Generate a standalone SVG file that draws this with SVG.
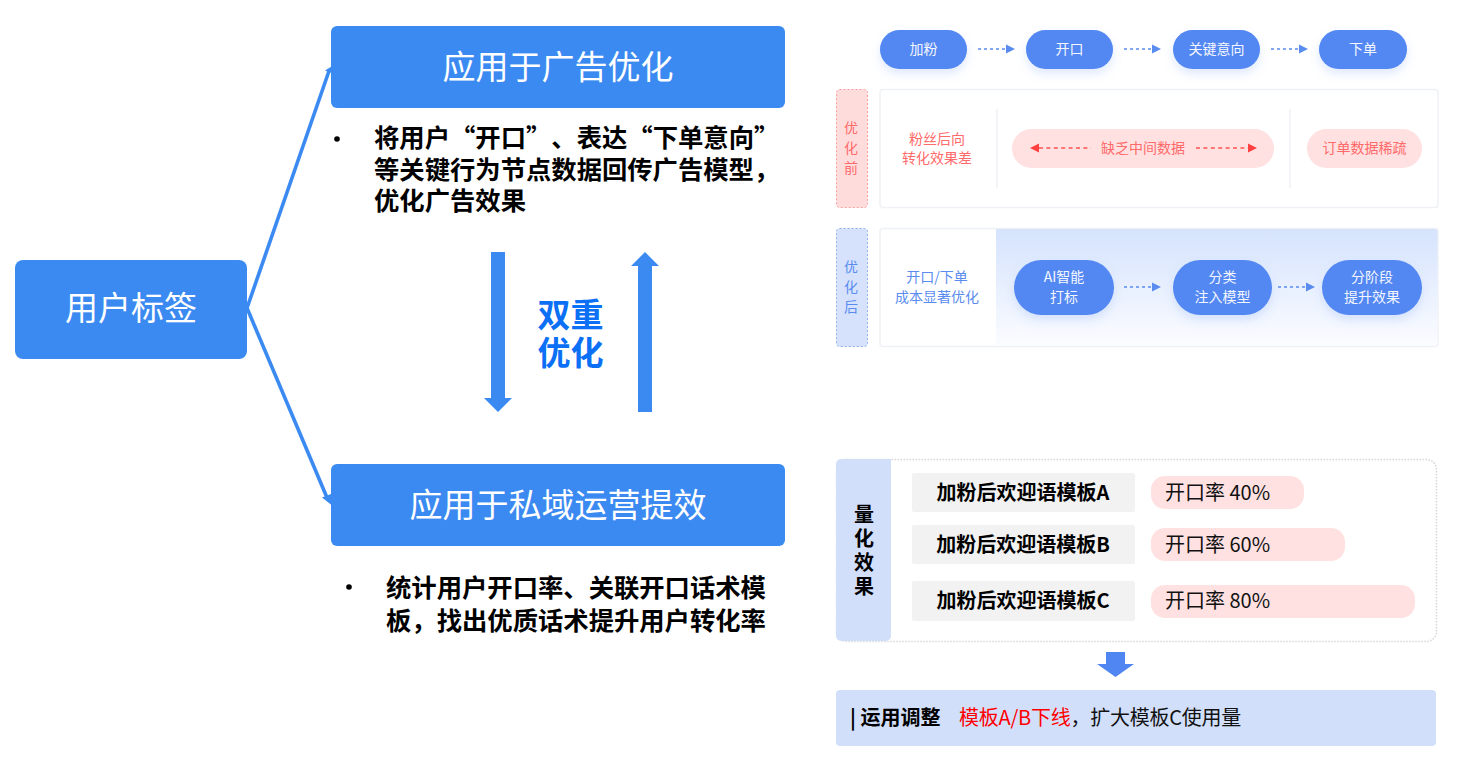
<svg xmlns="http://www.w3.org/2000/svg" width="1466" height="763" viewBox="0 0 1466 763">
<style>
text{font-family:"Noto Sans CJK SC","Liberation Sans",sans-serif}
.m{text-anchor:middle}
.blue{fill:#3b8af2}
.t{fill:#fff;font-size:33px;text-anchor:middle}
.b{fill:#000;font-size:25.33px;font-weight:700}
.p{fill:#5287f2;filter:url(#sh)}
.pt{fill:#f4f7ff;font-size:14px;text-anchor:middle}
.r{fill:#ff6a6a;font-size:14px;text-anchor:middle}
.bt{fill:#5a8cf0;font-size:14px;text-anchor:middle}
.vt{writing-mode:vertical-rl;letter-spacing:6px}
.pink{fill:#ffe1e1}
.panel{fill:#fff;stroke:#eff1f5;stroke-width:1.5}
.dashb{stroke:#5a8cf0;stroke-width:1.6;stroke-dasharray:3 3;fill:none}
.dashr{stroke:#ff5050;stroke-width:1.6;stroke-dasharray:4 3.4;fill:none}
.hb{fill:#5a8cf0}.hr{fill:#ff4040}
.g{fill:#f2f2f2}
.k{fill:#000;font-size:20px;font-weight:700;text-anchor:middle}
.v{fill:#111;font-size:20px}
</style>
<defs>
<filter id="sh" x="-20%" y="-30%" width="140%" height="170%"><feDropShadow dx="0" dy="5" stdDeviation="5" flood-color="#5287f2" flood-opacity=".18"/></filter>
<linearGradient id="fade" x1="0" y1="0" x2="0" y2="1"><stop offset="0" stop-color="#d5e3fd"/><stop offset="1" stop-color="#fbfcff"/></linearGradient>
</defs>
<rect width="1466" height="763" fill="#fff"/>

<g id="node-user-tag"><rect x="15" y="260" width="232" height="99" rx="8" class="blue"/><text x="131" y="320" class="t">用户标签</text></g>
<g id="node-ad"><rect x="331" y="26" width="454" height="82" rx="6" class="blue"/><text x="558" y="79" class="t">应用于广告优化</text></g>
<g id="node-ad-text">
<circle cx="337" cy="139" r="2.800"/>
<text class="b" y="147"><tspan x="374 399.300 424.700 450 475.300 500.700 526 551.300 576.700 602 627.300 652.700 678 703.300 728.700 754">将用户“开口”、表达“下单意向”</tspan><tspan x="374" y="179">等关键行为节点数据回传广告模型，</tspan><tspan x="374" y="210">优化广告效果</tspan></text>
</g>
<g id="node-double"><text x="570.500" y="327" font-size="33" font-weight="700" fill="#0b70f5" class="m">双重<tspan x="570.500" dy="38">优化</tspan></text></g>
<g id="node-private"><rect x="331" y="464" width="454" height="82" rx="6" class="blue"/><text x="558" y="517" class="t">应用于私域运营提效</text></g>
<g id="node-private-text">
<circle cx="349" cy="587" r="2.800"/>
<text x="386" y="597" class="b">统计用户开口率、关联开口话术模<tspan x="386" y="630">板，找出优质话术提升用户转化率</tspan></text>
</g>

<g id="node-step1"><rect x="880" y="30" width="87" height="39" rx="19.500" class="p"/><text x="923.500" y="54" class="pt">加粉</text></g>
<g id="node-step2"><rect x="1026" y="30" width="87" height="39" rx="19.500" class="p"/><text x="1069.500" y="54" class="pt">开口</text></g>
<g id="node-step3"><rect x="1173" y="30" width="87" height="39" rx="19.500" class="p"/><text x="1216.500" y="54" class="pt">关键意向</text></g>
<g id="node-step4"><rect x="1319" y="30" width="88" height="39" rx="19.500" class="p"/><text x="1363" y="54" class="pt">下单</text></g>

<g id="node-before-label"><rect x="836.500" y="89.500" width="31" height="118" rx="3" fill="#ffdcdc" stroke="#ff9c9c" stroke-dasharray="2 2"/>
<text x="851" y="151" class="r vt">优化前</text></g>
<g id="node-before">
<rect x="880" y="89.500" width="558" height="118" rx="3" class="panel"/>
<path d="M997 109V188M1290 109V188" stroke="#eff1f5" stroke-width="1.500"/>
<text x="937" y="144" class="r">粉丝后向<tspan x="937" dy="19">转化效果差</tspan></text>
<rect x="1012" y="129" width="262" height="39" rx="19.500" class="pink"/>
<text x="1143" y="153" class="r">缺乏中间数据</text>
<path d="M1039 148H1091M1196 148H1248" class="dashr"/>
<path d="M1039 143.500L1030 148L1039 152.500ZM1248 143.500L1257 148L1248 152.500Z" class="hr"/>
<rect x="1307" y="129" width="115" height="39" rx="19.500" class="pink"/>
<text x="1364.500" y="153" class="r">订单数据稀疏</text>
</g>

<g id="node-after-label"><rect x="836.500" y="228.500" width="31" height="118" rx="3" fill="#d6e2fb" stroke="#8fb0f2" stroke-dasharray="2 2"/>
<text x="851" y="290" class="bt vt">优化后</text></g>
<g id="node-after">
<rect x="880" y="228.500" width="558" height="118" rx="3" class="panel"/>
<path d="M996 229H1435a2.500 2.500 0 0 1 2.500 2.500V343a2.500 2.500 0 0 1-2.500 2.500H996Z" fill="url(#fade)"/>
<text x="937" y="282" class="bt">开口/下单<tspan x="937" dy="20">成本显著优化</tspan></text>
<rect x="1014" y="260" width="100" height="55" rx="27.500" class="p"/><text x="1064" y="282" class="pt">AI智能<tspan x="1064" dy="20">打标</tspan></text>
<rect x="1173" y="260" width="99" height="55" rx="27.500" class="p"/><text x="1222.500" y="282" class="pt">分类<tspan x="1222.500" dy="20">注入模型</tspan></text>
<rect x="1322" y="260" width="100" height="55" rx="27.500" class="p"/><text x="1372" y="282" class="pt">分阶段<tspan x="1372" dy="20">提升效果</tspan></text>
</g>

<g id="node-effect">
<rect x="836.500" y="459.500" width="600" height="182" rx="10" fill="#fff" stroke="#d6d6d6" stroke-width="1.500" stroke-dasharray="1.500 1.500"/>
<path d="M841 459H891V636a5 5 0 0 1-5 5H841a5 5 0 0 1-5-5V464a5 5 0 0 1 5-5Z" fill="#d2dffb"/>
<text x="864" y="552" class="k vt" style="letter-spacing:4px">量化效果</text>
</g>
<g id="node-row-a"><rect x="912" y="473" width="223" height="39" rx="2" class="g"/><text x="1023" y="500" class="k">加粉后欢迎语模板A</text><rect x="1151" y="476" width="153" height="33" rx="14" class="pink"/><text x="1165" y="500" class="v">开口率 40%</text></g>
<g id="node-row-b"><rect x="912" y="525" width="223" height="39" rx="2" class="g"/><text x="1023" y="552" class="k">加粉后欢迎语模板B</text><rect x="1151" y="528" width="194" height="33" rx="14" class="pink"/><text x="1165" y="552" class="v">开口率 60%</text></g>
<g id="node-row-c"><rect x="912" y="581" width="223" height="40" rx="2" class="g"/><text x="1023" y="608" class="k">加粉后欢迎语模板C</text><rect x="1151" y="585" width="264" height="33" rx="14" class="pink"/><text x="1165" y="608" class="v">开口率 80%</text></g>
<g id="node-adjust"><rect x="836" y="690" width="600" height="56" rx="4" fill="#d2dffb"/>
<text x="850" y="725" font-size="20" font-weight="700" fill="#000">| 运用调整</text>
<text x="959" y="725" font-size="20" fill="#f00" letter-spacing="-.25">模板A/B下线<tspan fill="#111">，扩大模板C使用量</tspan></text></g>

<g id="connectors">
<path d="M247 308L329 71" stroke="#3b8af2" stroke-width="3.600" fill="none"/>
<path d="M331.500 66.500L325 70.500L333 73.500Z" class="blue"/>
<path d="M247 308L328 500" stroke="#3b8af2" stroke-width="3.600" fill="none"/>
<path d="M331.500 505L322 497.500L331 494Z" class="blue"/>
<path d="M491 252H505V398H512L498 412L484 398H491Z" class="blue"/>
<path d="M638 412H652V266H659L645 252L631 266H638Z" class="blue"/>
<path d="M978 49H1006" class="dashb"/><path d="M1006 44.500L1015 49L1006 53.500Z" class="hb"/>
<path d="M1124 49H1152" class="dashb"/><path d="M1152 44.500L1161 49L1152 53.500Z" class="hb"/>
<path d="M1271 49H1299" class="dashb"/><path d="M1299 44.500L1308 49L1299 53.500Z" class="hb"/>
<path d="M1124 287H1152" class="dashb"/><path d="M1152 282.500L1161 287L1152 291.500Z" class="hb"/>
<path d="M1278 287H1306" class="dashb"/><path d="M1306 282.500L1315 287L1306 291.500Z" class="hb"/>
<path d="M1106 652H1125V664H1134L1115.500 677L1097 664H1106Z" fill="#4f86f1"/>
</g>
</svg>
